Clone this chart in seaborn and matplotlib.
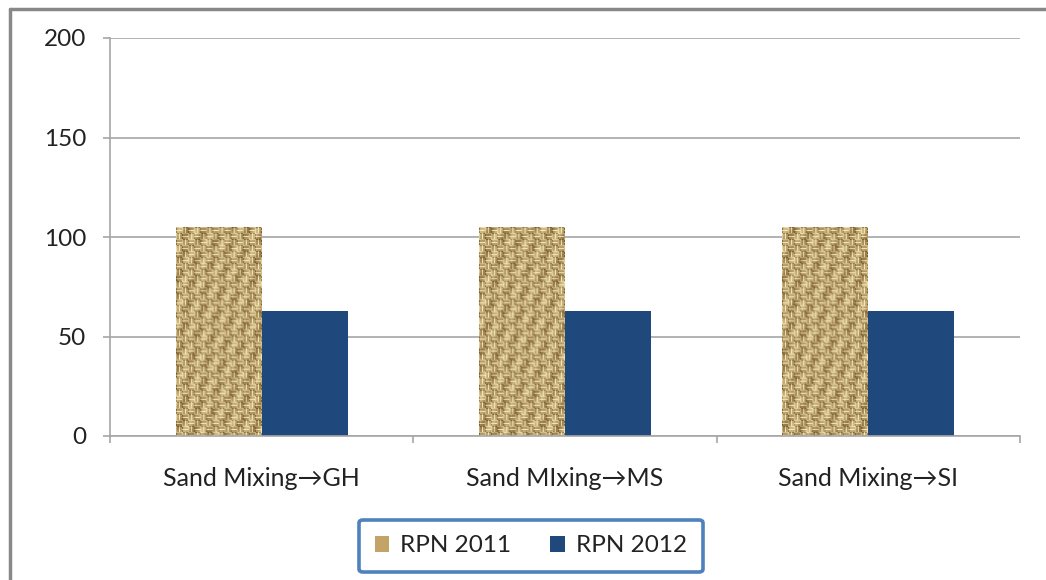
import numpy as np
import pandas as pd
import matplotlib
matplotlib.use("Agg")
import matplotlib.pyplot as plt
import seaborn as sns
from matplotlib.patches import Patch, Rectangle

# Risk priority numbers per process link
stages = ["Sand Mixing\u2192GH", "Sand MIxing\u2192MS", "Sand Mixing\u2192SI"]
rpn_2011 = [105, 105, 105]
rpn_2012 = [63, 63, 63]
series = ["RPN 2011", "RPN 2012"]
y_ticks = [0, 50, 100, 150, 200]

df = pd.DataFrame({
    "stage": stages * 2,
    "rpn": rpn_2011 + rpn_2012,
    "year": [series[0]] * 3 + [series[1]] * 3,
})

sns.set_theme(style="white")
plt.rcParams["font.family"] = ["Lato", "DejaVu Sans"]

TAN = "#C4A466"
BLUE = "#1F497D"
GRID = "#A6A6A6"
FS = 17.5

fig = plt.figure(figsize=(10.46, 5.8), dpi=100)
ax = fig.add_axes([110 / 1046, 1 - 436 / 580, 910 / 1046, 398 / 580])

sns.barplot(data=df, x="stage", y="rpn", hue="year", palette=[TAN, BLUE],
            width=0.567, saturation=1, ax=ax, legend=False, linewidth=0)

ax.set_ylim(0, 200)
ax.set_xlim(-0.5, 2.5)
ax.set_yticks(y_ticks)
ax.yaxis.grid(True, color=GRID, linewidth=1.2)
ax.set_axisbelow(True)
ax.set_xlabel("")
ax.set_ylabel("")
for s in ["top", "right"]:
    ax.spines[s].set_visible(False)
for s in ["left", "bottom"]:
    ax.spines[s].set_color(GRID)
    ax.spines[s].set_linewidth(1.2)

ax.tick_params(axis="y", length=5, width=1.2, color=GRID, pad=12,
               labelsize=FS, labelcolor="#222222", left=True)
ax.tick_params(axis="x", which="major", length=0, pad=22,
               labelsize=18, labelcolor="#222222")
ax.set_xticks([-0.5, 0.5, 1.5, 2.5], minor=True)
ax.tick_params(axis="x", which="minor", length=5, width=1.2, color=GRID,
               bottom=True)


def weave(h, w):
    """Burlap-like basket weave texture as an RGB array."""
    yy, xx = np.mgrid[0:h, 0:w]
    cell = 6
    ci, cj = yy // cell, xx // cell
    horiz = ((ci + cj) % 2 == 0)
    stripe_h = 0.5 + 0.5 * np.cos(2 * np.pi * yy / 3.0)
    stripe_v = 0.5 + 0.5 * np.cos(2 * np.pi * xx / 3.0)
    s = np.where(horiz, stripe_h, stripe_v)
    edge = ((yy % cell == 0) | (xx % cell == 0)).astype(float)
    mod = 0.25 * np.sin(xx * 0.37 + yy * 0.21) * np.cos(yy * 0.13 - xx * 0.05)
    t = np.clip(s * 0.8 - edge * 0.35 + mod + 0.25, 0, 1)
    dark = np.array([0.48, 0.36, 0.17])
    light = np.array([0.97, 0.91, 0.70])
    return dark[None, None, :] * (1 - t[..., None]) + light[None, None, :] * t[..., None]


for patch in ax.patches:
    if not isinstance(patch, Rectangle):
        continue
    fc = patch.get_facecolor()
    if abs(fc[0] - int(TAN[1:3], 16) / 255) > 0.02:
        continue
    x0, y0 = patch.get_x(), patch.get_y()
    w, h = patch.get_width(), patch.get_height()
    bb = patch.get_window_extent(fig.canvas.get_renderer())
    tex = weave(max(int(bb.height), 2), max(int(bb.width), 2))
    im = ax.imshow(tex, extent=[x0, x0 + w, y0, y0 + h], aspect="auto",
                   interpolation="bilinear", zorder=patch.get_zorder() + 0.1)
    im.set_clip_path(patch)

ax.set_xlim(-0.5, 2.5)
ax.set_ylim(0, 200)

handles = [Patch(facecolor=TAN, edgecolor="none", label=series[0]),
           Patch(facecolor=BLUE, edgecolor="none", label=series[1])]
leg = fig.legend(handles=handles, loc="center", ncol=2,
                 bbox_to_anchor=(531 / 1046, 1 - 546 / 580),
                 fontsize=FS, frameon=True, fancybox=True, framealpha=1,
                 handlelength=0.6, handleheight=0.6, handletextpad=0.45,
                 columnspacing=1.6, borderpad=0.3, borderaxespad=0)
leg.get_frame().set_edgecolor("#4F81BD")
leg.get_frame().set_linewidth(2.6)
leg.get_frame().set_boxstyle("round", pad=0.35, rounding_size=0.15)
for t in leg.get_texts():
    t.set_color("#222222")

# outer chart border (left and top edges)
fig.add_artist(plt.Line2D([10 / 1046, 10 / 1046], [0, 1 - 9 / 580],
                          transform=fig.transFigure, color="#888888", linewidth=2.5))
fig.add_artist(plt.Line2D([10 / 1046, 1], [1 - 9 / 580, 1 - 9 / 580],
                          transform=fig.transFigure, color="#888888", linewidth=2.5))

fig.savefig("out.png", dpi=100)
